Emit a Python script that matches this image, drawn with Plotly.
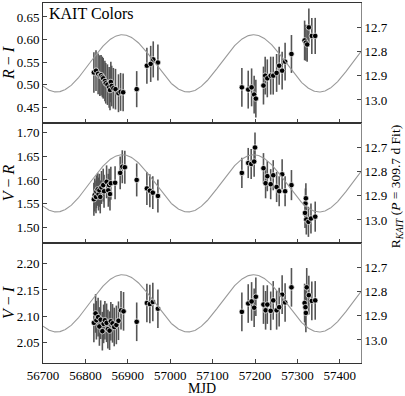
import numpy as np
import plotly.graph_objects as go
from plotly.subplots import make_subplots

# ---------------- data ----------------
ri_mjd = [56820, 56825, 56830, 56834, 56837, 56840, 56842, 56846, 56848, 56852, 56856, 56858,
          56860, 56862, 56866, 56871, 56878, 56883, 56889, 56921, 56945, 56954, 56960, 56971,
          57169, 57184, 57192, 57198, 57202, 57220, 57224, 57229, 57237, 57243, 57251, 57257,
          57264, 57271, 57286, 57317, 57320, 57323, 57327, 57334, 57342]
ri_val = [0.527, 0.531, 0.524, 0.520, 0.521, 0.517, 0.514, 0.508, 0.503, 0.500, 0.494, 0.488,
          0.506, 0.497, 0.492, 0.490, 0.481, 0.484, 0.483, 0.490, 0.542, 0.546, 0.556, 0.549,
          0.494, 0.489, 0.494, 0.478, 0.469, 0.498, 0.520, 0.514, 0.520, 0.520, 0.526, 0.542,
          0.531, 0.551, 0.568, 0.598, 0.593, 0.589, 0.627, 0.608, 0.608]
ri_err = [0.045, 0.045, 0.045, 0.045, 0.045, 0.045, 0.045, 0.045, 0.045, 0.045, 0.045, 0.045,
          0.045, 0.045, 0.045, 0.045, 0.042, 0.042, 0.042, 0.040, 0.040, 0.040, 0.040, 0.040,
          0.043, 0.042, 0.042, 0.042, 0.042, 0.042, 0.042, 0.042, 0.042, 0.042, 0.042, 0.042,
          0.042, 0.042, 0.042, 0.044, 0.040, 0.038, 0.042, 0.040, 0.040]

vr_mjd = [56820, 56822, 56825, 56826, 56829, 56831, 56833, 56835, 56838, 56842, 56844, 56850,
          56854, 56856, 56858, 56860, 56870, 56882, 56887, 56893, 56921, 56945, 56952, 56959,
          56971,
          57169, 57184, 57191, 57198, 57200, 57220, 57225, 57229, 57237, 57243, 57251, 57257,
          57264, 57271, 57286, 57318, 57319, 57320, 57321, 57326, 57332, 57342]
vr_val = [1.559, 1.568, 1.564, 1.575, 1.580, 1.570, 1.578, 1.564, 1.584, 1.589, 1.576, 1.596,
          1.578, 1.589, 1.570, 1.593, 1.594, 1.615, 1.628, 1.627, 1.600, 1.582, 1.577, 1.573,
          1.566,
          1.615, 1.636, 1.634, 1.639, 1.669, 1.625, 1.593, 1.608, 1.591, 1.610, 1.585, 1.576,
          1.612, 1.576, 1.589, 1.530, 1.550, 1.561, 1.516, 1.511, 1.518, 1.522]
vr_err = [0.035] * 25 + [0.032] * 22

vi_mjd = [56820, 56824, 56826, 56830, 56833, 56836, 56840, 56843, 56846, 56850, 56853, 56857,
          56860, 56864, 56868, 56873, 56878, 56884, 56890, 56921, 56945, 56952, 56959, 56971,
          57169, 57184, 57192, 57198, 57202, 57220, 57225, 57229, 57237, 57243, 57251, 57257,
          57264, 57271, 57286, 57317, 57319, 57320, 57322, 57327, 57334, 57342]
vi_val = [2.087, 2.105, 2.092, 2.098, 2.080, 2.093, 2.071, 2.085, 2.092, 2.087, 2.075, 2.072,
          2.090, 2.086, 2.079, 2.083, 2.091, 2.111, 2.109, 2.089, 2.125, 2.123, 2.127, 2.114,
          2.108, 2.124, 2.128, 2.116, 2.137, 2.122, 2.111, 2.122, 2.110, 2.130, 2.111, 2.117,
          2.141, 2.126, 2.155, 2.125, 2.117, 2.106, 2.155, 2.140, 2.129, 2.130]
vi_err = [0.037] * 46

# Sinusoidal fit to R_KAIT light curve (P = 309.7 d)
fit_period = 309.7
fit_mean = 12.849
fit_amp = 0.118
fit_t0 = 56887.0
x_range = [56700, 57450]

x_tick_vals = [56700, 56800, 56900, 57000, 57100, 57200, 57300, 57400]
x_tick_text = ["56700", "56800", "56900", "57000", "57100", "57200", "57300", "57400"]
mag_tick_vals = [12.7, 12.8, 12.9, 13.0]
mag_tick_text = ["12.7", "12.8", "12.9", "13.0"]

# ---------------- figure ----------------
fig = make_subplots(rows=3, cols=1, shared_xaxes=True, vertical_spacing=0,
                    specs=[[{"secondary_y": True}]] * 3)

fit_t = np.linspace(x_range[0], x_range[1], 600)
fit_m = fit_mean - fit_amp * np.cos(2 * np.pi * (fit_t - fit_t0) / fit_period)

panels = [(ri_mjd, ri_val, ri_err, [0.415, 0.681], "<i>R</i> − <i>I</i>"),
          (vr_mjd, vr_val, vr_err, [1.466, 1.721], "<i>V</i> − <i>R</i>"),
          (vi_mjd, vi_val, vi_err, [2.010, 2.240], "<i>V</i> − <i>I</i>")]

FONT = "Liberation Serif"
for i, (mx, my, me, yr, title) in enumerate(panels, start=1):
    fig.add_trace(go.Scatter(
        x=mx, y=my, mode="markers",
        marker=dict(color="black", size=5.5, line=dict(color="white", width=0.7)),
        error_y=dict(type="data", array=me, color="#555555", thickness=1.6, width=0),
        showlegend=False), row=i, col=1, secondary_y=False)
    fig.add_trace(go.Scatter(
        x=fit_t, y=fit_m, mode="lines", line=dict(color="#999999", width=1.1),
        showlegend=False, hoverinfo="skip"), row=i, col=1, secondary_y=True)
    fig.update_yaxes(range=yr, dtick=0.05, tickformat=".2f", ticks="inside", ticklen=4,
                     showgrid=False, zeroline=False, showline=True, linecolor="#333333",
                     linewidth=1, mirror=False, automargin=False,
                     title=dict(text=title, font=dict(size=16, family=FONT), standoff=6),
                     tickfont=dict(size=13, family=FONT, color="black"),
                     row=i, col=1, secondary_y=False)
    fig.update_yaxes(range=[13.095, 12.6], tickvals=mag_tick_vals, ticktext=mag_tick_text,
                     ticks="inside", ticklen=4, automargin=False,
                     showgrid=False, zeroline=False, showline=True, linecolor="#888888",
                     linewidth=1, tickfont=dict(size=13, family=FONT, color="black"),
                     row=i, col=1, secondary_y=True)
    fig.update_xaxes(range=x_range, tickvals=x_tick_vals, ticktext=x_tick_text,
                     domain=[0, 1],
                     ticks="inside", ticklen=4, automargin=False,
                     showgrid=False, zeroline=False, showline=True, linecolor="#333333",
                     linewidth=1, mirror=True,
                     tickfont=dict(size=13, family=FONT, color="black"),
                     row=i, col=1)

fig.update_xaxes(title=dict(text="MJD", font=dict(size=14, family=FONT), standoff=0), row=3, col=1)

fig.add_annotation(text="KAIT Colors", xref="paper", yref="paper", x=0.012, y=1.0,
                   xanchor="left", yanchor="top", showarrow=False,
                   font=dict(size=16, family=FONT, color="black"))
fig.add_annotation(text="R<sub><i>KAIT</i></sub> (<i>P</i> = 309.7 d Fit)",
                   xref="paper", yref="paper", x=1.112, y=0.49, textangle=-90,
                   xanchor="center", yanchor="middle", showarrow=False,
                   font=dict(size=13.5, family=FONT, color="black"))

fig.update_layout(width=405, height=396, margin=dict(l=43, r=44, t=3, b=33),
                  plot_bgcolor="white", paper_bgcolor="white",
                  font=dict(family=FONT, color="black"))

fig.write_html("out.html", config={"displayModeBar": False},
               post_script="document.body.style.margin='0px';document.body.style.overflow='hidden';")
